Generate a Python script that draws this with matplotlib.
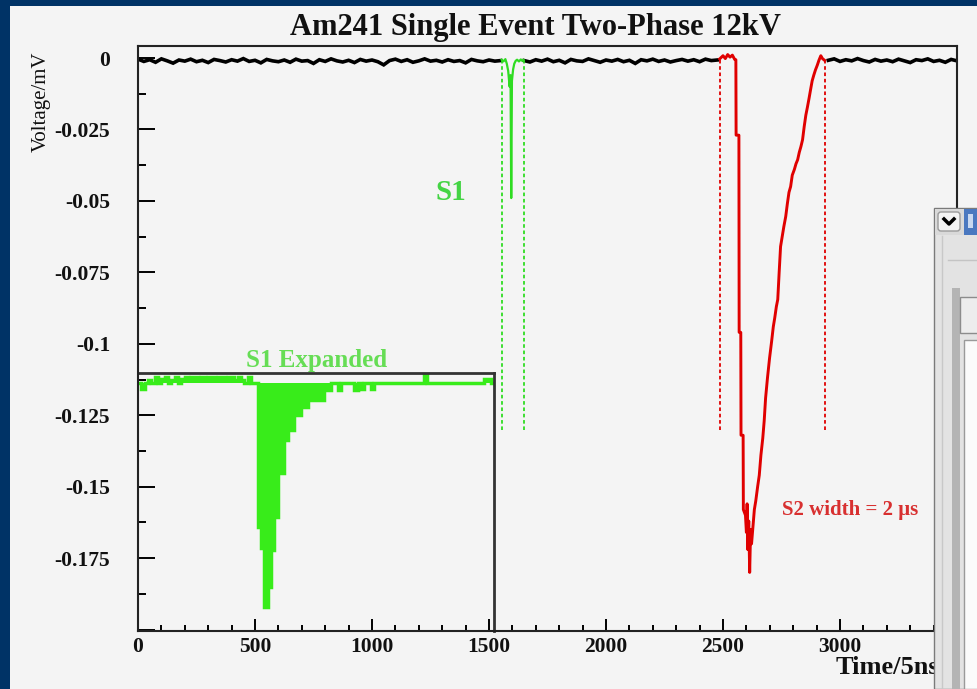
import numpy as np
import matplotlib.pyplot as plt
from matplotlib.patches import Rectangle, FancyBboxPatch
from matplotlib.ticker import MultipleLocator, FuncFormatter

W, H = 978, 689
SERIF = 'Liberation Serif'

# ---- data (time in 5 ns samples, voltage in mV) ----
base1_t0, base2_t0, base3_t0, base_dt = 0, 1650, 2950, 25
base1_v = [-0.0004, -0.0012, -0.0006, -0.0015, -0.0003, -0.0010, -0.0018, -0.0007, -0.0011, -0.0004,
           -0.0013, -0.0008, -0.0016, -0.0005, -0.0009, -0.0014, -0.0006, -0.0011, -0.0002, -0.0012,
           -0.0008, -0.0017, -0.0005, -0.0010, -0.0013, -0.0007, -0.0015, -0.0004, -0.0011, -0.0009,
           -0.0019, -0.0006, -0.0012, -0.0003, -0.0010, -0.0014, -0.0008, -0.0016, -0.0005, -0.0011,
           -0.0007, -0.0013, -0.0024, -0.0009, -0.0004, -0.0012, -0.0006, -0.0015, -0.0010, -0.0003,
           -0.0011, -0.0008, -0.0014, -0.0006, -0.0012, -0.0009, -0.0017, -0.0005, -0.0010, -0.0013,
           -0.0007, -0.0011, -0.0009]
base2_v = [-0.0009, -0.0014, -0.0006, -0.0011, -0.0004, -0.0013, -0.0008, -0.0017, -0.0005, -0.0010,
           -0.0012, -0.0003, -0.0009, -0.0015, -0.0007, -0.0011, -0.0005, -0.0013, -0.0008, -0.0019,
           -0.0006, -0.0010, -0.0004, -0.0012, -0.0007, -0.0014, -0.0009, -0.0005, -0.0011, -0.0006,
           -0.0013, -0.0004, -0.0009, -0.0007]
base3_v = [-0.0008, -0.0003, -0.0012, -0.0006, -0.0010, -0.0002, -0.0009, -0.0014, -0.0005, -0.0011,
           -0.0007, -0.0013, -0.0004, -0.0010, -0.0016, -0.0006, -0.0009, -0.0003, -0.0012, -0.0008,
           -0.0015, -0.0005, -0.0010]

s1_t = [1554, 1562, 1570, 1576, 1582, 1588, 1592, 1595, 1598, 1603, 1608, 1614, 1620, 1628, 1636, 1642, 1648]
s1_v = [-0.0006, -0.0012, -0.0004, -0.0020, -0.0045, -0.0100, -0.0060, -0.0490, -0.0080, -0.0040,
        -0.0020, -0.0010, -0.0006, -0.0012, -0.0005, -0.0010, -0.0007]

s2_t = [2486, 2500, 2510, 2520, 2530, 2540, 2550, 2555, 2556, 2568, 2569, 2576, 2577, 2586, 2587,
        2596, 2600, 2603, 2606, 2610, 2614, 2618, 2622, 2627, 2634, 2640, 2648, 2655, 2662, 2670,
        2676, 2682, 2690, 2699, 2708, 2715, 2721, 2728, 2734, 2740, 2746, 2752, 2760, 2768, 2775,
        2782, 2789, 2796, 2805, 2812, 2819, 2826, 2833, 2840, 2847, 2854, 2861, 2868, 2874, 2881,
        2888, 2895, 2903, 2910, 2918, 2925, 2934]
s2_v = [-0.0003, 0.0008, -0.0002, 0.0012, 0.0003, 0.0010, -0.0005, -0.0006, -0.0270, -0.0270,
        -0.0960, -0.0960, -0.1320, -0.1320, -0.1580, -0.1600, -0.1660, -0.1560, -0.1720, -0.1620,
        -0.1800, -0.1650, -0.1700, -0.1650, -0.1580, -0.1550, -0.1500, -0.1460, -0.1390, -0.1330,
        -0.1270, -0.1190, -0.1120, -0.1050, -0.0990, -0.0940, -0.0910, -0.0870, -0.0845, -0.0750,
        -0.0660, -0.0630, -0.0590, -0.0555, -0.0510, -0.0470, -0.0450, -0.0410, -0.0390, -0.0370,
        -0.0356, -0.0330, -0.0310, -0.0286, -0.0240, -0.0200, -0.0171, -0.0140, -0.0112, -0.0080,
        -0.0060, -0.0042, -0.0025, -0.0008, 0.0008, -0.0002, -0.0008]

s1_window = [1554, 1648]
s2_window = [2486, 2934]
window_depth = -0.13

# S1 expanded histogram (one value per bin)
s1_expanded = [0, -0.0020, 0, 0.0010, 0, 0.0020, 0, 0.0015, 0.0020, 0,
               0.0010, 0.0020, 0, 0.0015, 0.0020, 0.0010, 0.0020, 0.0020, 0.0010, 0.0020,
               0.0015, 0.0020, 0.0020, 0.0010, 0.0020, 0.0020, 0.0015, 0.0020, 0.0020, 0.0010,
               0.0020, 0.0010, 0, 0.0020, 0, 0, -0.0503, -0.0576, -0.0782, -0.0712,
               -0.0583, -0.0468, -0.0314, -0.0314, -0.0199, -0.0164, -0.0164, -0.0112, -0.0112, -0.0084,
               -0.0084, -0.0059, -0.0059, -0.0059, -0.0059, -0.0059, -0.0024, -0.0024, 0, 0,
               -0.0025, 0, 0, 0, 0, -0.0025, 0, -0.0020, 0, 0,
               -0.0020, 0, 0, 0, 0, 0, 0, 0, 0, 0,
               0, 0, 0, 0, 0, 0, 0.0030, 0, 0, 0,
               0, 0, 0, 0, 0, 0, 0, 0, 0, 0,
               0, 0, 0, 0, 0.0015, 0.0015, 0]

GREEN = '#2fdc22'
RED = '#e00000'

fig = plt.figure(figsize=(W / 100, H / 100), dpi=100, facecolor='#003366')
fig.add_artist(Rectangle((10 / W, 0), 1 - 10 / W, 1 - 6 / H, transform=fig.transFigure,
                         fc='#f4f4f4', ec='none', zorder=0))

# main axes
ax = fig.add_axes([138 / W, (H - 631) / H, (957 - 138) / W, (631 - 46) / H], zorder=2)
ax.patch.set_visible(False)

t1 = base1_t0 + base_dt * np.arange(len(base1_v))
t2 = base2_t0 + base_dt * np.arange(len(base2_v))
t3 = base3_t0 + base_dt * np.arange(len(base3_v))
for t, v in [(t1, base1_v), (t2, base2_v), (t3, base3_v)]:
    ax.plot(t, v, color='black', lw=2.6, solid_joinstyle='miter')
ax.plot(s1_t, s1_v, color=GREEN, lw=1.6)
ax.plot(s2_t, s2_v, color=RED, lw=2.1)

ax.vlines(s1_window, window_depth, 0, colors=GREEN, lw=1.3, linestyles=(0, (2, 1.5)))
ax.vlines(s2_window, window_depth, 0, colors=RED, lw=1.3, linestyles=(0, (2, 1.5)))

ax.set_xlim(0, 3500)
ax.set_ylim(-0.2005, 0.0042)
ax.xaxis.set_major_locator(MultipleLocator(500))
ax.xaxis.set_minor_locator(MultipleLocator(100))
ax.yaxis.set_major_locator(MultipleLocator(0.025))
ax.yaxis.set_minor_locator(MultipleLocator(0.0125))


def yfmt(v, pos):
    if abs(v) < 1e-9:
        return '0'
    if v < -0.19:
        return ''
    return f'{round(v, 4):g}'


ax.yaxis.set_major_formatter(FuncFormatter(yfmt))
ax.xaxis.set_major_formatter(FuncFormatter(lambda v, p: f'{int(round(v))}'))
ax.tick_params(axis='y', which='major', direction='in', length=12.5, width=1.4, pad=20)
ax.tick_params(axis='y', which='minor', direction='in', length=6, width=1.4)
ax.tick_params(axis='x', which='major', direction='in', length=8.5, width=1.4, pad=4)
ax.tick_params(axis='x', which='minor', direction='in', length=4.5, width=1.4)
for lab in ax.get_xticklabels() + ax.get_yticklabels():
    lab.set_fontfamily(SERIF)
    lab.set_fontweight('bold')
    lab.set_fontsize(15.5)
    lab.set_color('#111111')
for s in ax.spines.values():
    s.set_linewidth(1.5)
    s.set_color('#222222')

ax.text(1338, -0.047, 'S1', ha='center', va='center', color='#44d444',
        fontsize=21, fontweight='bold', family=SERIF)
ax.text(2752, -0.158, 'S2 width = 2 \u03bcs', ha='left', va='center', color='#d83030',
        fontsize=15, fontweight='bold', family=SERIF, clip_on=False)

# inset with expanded S1
ins = fig.add_axes([138 / W, (H - 631) / H, (494 - 138) / W, (631 - 373) / H], zorder=1)
ins.set_facecolor('#f4f4f4')
edges = np.arange(len(s1_expanded) + 1)
ins.stairs(s1_expanded, edges, baseline=0, fill=True, color='#38ec1a')
ins.stairs(s1_expanded, edges, baseline=None, color='#38ec1a', lw=2.5)
ins.set_xlim(0, len(s1_expanded))
ins.set_ylim(-0.0866, 0.0035)
ins.set_xticks([])
ins.set_yticks([])
ins.spines['left'].set_visible(False)
ins.spines['bottom'].set_visible(False)
for side in ['top', 'right']:
    ins.spines[side].set_linewidth(2)
    ins.spines[side].set_color('#333333')

# titles and labels
fig.text(536 / W, 1 - 27 / H, 'Am241 Single Event Two-Phase 12kV', ha='center', va='center',
         fontsize=22, fontweight='bold', family=SERIF, color='#111111')
fig.text(317 / W, 1 - 360 / H, 'S1 Expanded', ha='center', va='center',
         fontsize=18, fontweight='bold', family=SERIF, color='#66dd55')
fig.text(41 / W, 1 - 52 / H, 'Voltage/mV', ha='center', va='top', rotation=90,
         fontsize=15, family=SERIF, color='#111111')
fig.text(836 / W, 1 - 667 / H, 'Time/5ns', ha='left', va='center',
         fontsize=19, fontweight='bold', family=SERIF, color='#111111')

# dialog window overlapping the right edge of the screenshot
ov = fig.add_axes([0, 0, 1, 1], zorder=10)
ov.set_xlim(0, W)
ov.set_ylim(H, 0)
ov.axis('off')
ov.patch.set_visible(False)
ov.add_patch(Rectangle((934, 208), 44, 481, fc='#e3e3e3', ec='#7a7a7a', lw=1))
ov.add_patch(Rectangle((935, 209), 43, 26, fc='#d9d9d9', ec='none'))
ov.add_patch(FancyBboxPatch((938, 212), 22, 19, boxstyle='round,pad=0,rounding_size=3',
                            fc='#f3f3f3', ec='#9a9a9a', lw=1))
ov.plot([944, 949, 954], [219, 224, 219], color='black', lw=2.5)
ov.add_patch(Rectangle((964, 209), 14, 26, fc='#4a78c0', ec='none'))
ov.add_patch(Rectangle((968, 214), 5, 14, fc='#c8d8f0', ec='none'))
ov.plot([942, 942], [236, 689], color='#c8c8c8', lw=1)
ov.plot([948, 978], [260, 260], color='#c4c4c4', lw=1)
ov.add_patch(Rectangle((952, 288), 8, 401, fc='#b4b4b4', ec='none'))
ov.add_patch(Rectangle((960, 297), 18, 36, fc='#ededed', ec='#8c8c8c', lw=1))
ov.add_patch(Rectangle((964, 340), 14, 349, fc='#fbfbfb', ec='#9a9a9a', lw=1))

fig.savefig('out.png', dpi=100, facecolor=fig.get_facecolor())
